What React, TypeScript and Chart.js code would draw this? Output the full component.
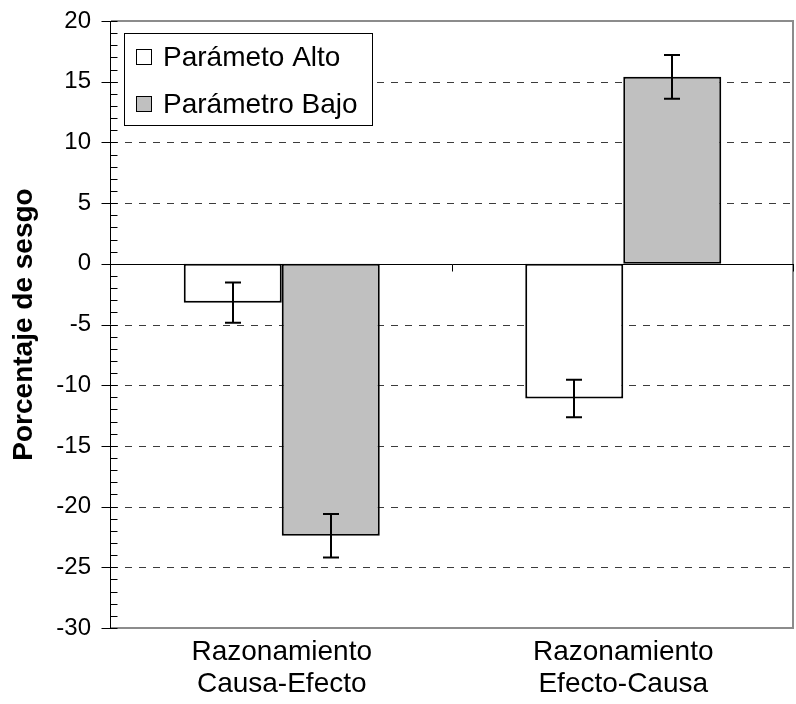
import React, { useEffect, useRef } from 'react';
import { Chart, registerables } from 'chart.js';

Chart.register(...registerables);

const categories = [
  ['Razonamiento', 'Causa-Efecto'],
  ['Razonamiento', 'Efecto-Causa'],
];
const seriesNames = ['Parámeto Alto', 'Parámetro Bajo'];
const altoValues = [-3.2, -11.1];
const altoErrors = [1.65, 1.55];
const bajoValues = [-22.4, 15.4];
const bajoErrors = [1.8, 1.8];
const yMin = -30;
const yMax = 20;
const yStep = 5;
const yMinorStep = 1;
const yTitle = 'Porcentaje de sesgo';

const FONT = "'Liberation Sans', Arial, Helvetica, sans-serif";
const seriesColors = ['#ffffff', '#c0c0c0'];
const errors = [altoErrors, bajoErrors];

const decorPlugin = {
  id: 'decor',
  beforeDatasetsDraw(chart: any) {
    const { ctx, chartArea: a, scales } = chart;
    const y = scales.y;
    const x = scales.x;
    ctx.save();
    // dashed grid lines
    ctx.strokeStyle = '#3c3c3c';
    ctx.lineWidth = 1;
    ctx.setLineDash([7, 7]);
    for (let v = yMin + yStep; v < yMax; v += yStep) {
      if (v === 0) continue;
      const py = Math.round(y.getPixelForValue(v)) + 0.5;
      ctx.beginPath();
      ctx.moveTo(a.left, py);
      ctx.lineTo(a.right, py);
      ctx.stroke();
    }
    ctx.setLineDash([]);
    // gray frame (top, right, bottom)
    ctx.strokeStyle = '#8c8c8c';
    ctx.lineWidth = 2;
    ctx.beginPath();
    ctx.moveTo(a.left, a.top);
    ctx.lineTo(a.right - 1, a.top);
    ctx.lineTo(a.right - 1, a.bottom);
    ctx.lineTo(a.left, a.bottom);
    ctx.stroke();
    // zero line
    const zy = Math.round(y.getPixelForValue(0)) + 0.5;
    ctx.strokeStyle = '#000';
    ctx.lineWidth = 1;
    ctx.beginPath();
    ctx.moveTo(a.left, zy);
    ctx.lineTo(a.right, zy);
    ctx.stroke();
    // category separator ticks
    for (let i = 0; i < categories.length; i++) {
      const px = Math.round(x.getPixelForValue(i + 0.5)) - 0.5;
      ctx.beginPath();
      ctx.moveTo(px, zy);
      ctx.lineTo(px, zy + 7);
      ctx.stroke();
    }
    ctx.restore();
  },
  afterDatasetsDraw(chart: any) {
    const { ctx, chartArea: a, scales } = chart;
    const y = scales.y;
    ctx.save();
    // error bars
    ctx.strokeStyle = '#000';
    ctx.lineWidth = 2;
    chart.data.datasets.forEach((ds: any, di: number) => {
      const meta = chart.getDatasetMeta(di);
      meta.data.forEach((bar: any, i: number) => {
        const v = ds.data[i];
        const e = errors[di][i];
        const px = Math.round(bar.x);
        const yt = y.getPixelForValue(v + e);
        const yb = y.getPixelForValue(v - e);
        ctx.beginPath();
        ctx.moveTo(px, yt);
        ctx.lineTo(px, yb);
        ctx.moveTo(px - 8, yt);
        ctx.lineTo(px + 8, yt);
        ctx.moveTo(px - 8, yb);
        ctx.lineTo(px + 8, yb);
        ctx.stroke();
      });
    });
    // left axis
    const ax = Math.round(a.left) - 0.5;
    ctx.lineWidth = 1;
    ctx.beginPath();
    ctx.moveTo(ax, a.top);
    ctx.lineTo(ax, a.bottom);
    ctx.stroke();
    for (let v = yMin; v <= yMax; v += yMinorStep) {
      const py = Math.round(y.getPixelForValue(v)) + 0.5;
      const major = (v - yMin) % yStep === 0;
      ctx.beginPath();
      ctx.moveTo(major ? ax - 9 : ax, py);
      ctx.lineTo(ax + 7, py);
      ctx.stroke();
    }
    // legend
    const lx = a.left + 13;
    const ly = a.top + 12;
    ctx.fillStyle = '#fff';
    ctx.fillRect(lx, ly, 248, 92);
    ctx.strokeStyle = '#000';
    ctx.lineWidth = 1;
    ctx.strokeRect(lx + 0.5, ly + 0.5, 248, 92);
    ctx.font = `28px ${FONT}`;
    ctx.textBaseline = 'middle';
    ctx.textAlign = 'left';
    seriesNames.forEach((name, i) => {
      const sy = ly + 16 + i * 47;
      ctx.fillStyle = seriesColors[i];
      ctx.fillRect(lx + 12, sy, 15, 15);
      ctx.strokeStyle = '#000';
      ctx.strokeRect(lx + 12.5, sy + 0.5, 15, 15);
      ctx.fillStyle = '#000';
      ctx.fillText(name, lx + 39, sy + 9);
    });
    // y title
    ctx.translate(32, (a.top + a.bottom) / 2);
    ctx.rotate(-Math.PI / 2);
    ctx.font = `bold 28px ${FONT}`;
    ctx.textAlign = 'center';
    ctx.textBaseline = 'alphabetic';
    ctx.fillText(yTitle, 0, 0);
    ctx.restore();
  },
};

export default function App() {
  const ref = useRef<HTMLCanvasElement>(null);
  useEffect(() => {
    if (!ref.current) return;
    const chart = new Chart(ref.current, {
      type: 'bar',
      data: {
        labels: categories,
        datasets: [
          {
            label: seriesNames[0],
            data: altoValues,
            backgroundColor: seriesColors[0],
            borderColor: '#000',
            borderWidth: 2,
            borderSkipped: false,
          },
          {
            label: seriesNames[1],
            data: bajoValues,
            backgroundColor: seriesColors[1],
            borderColor: '#000',
            borderWidth: 2,
            borderSkipped: false,
          },
        ],
      },
      options: {
        responsive: false,
        animation: false,
        events: [],
        layout: { padding: { top: 21, right: 2, left: 0, bottom: 0 } },
        datasets: { bar: { barPercentage: 1, categoryPercentage: 0.574 } },
        plugins: {
          legend: { display: false },
          tooltip: { enabled: false },
          title: { display: false },
        },
        scales: {
          x: {
            grid: { display: false, drawTicks: false },
            border: { display: false },
            ticks: {
              color: '#000',
              font: { family: FONT, size: 28, lineHeight: 1.15 },
              padding: 8,
              maxRotation: 0,
              autoSkip: false,
            },
            afterFit: (s: any) => {
              s.height = 76;
              s.paddingLeft = 0;
              s.paddingRight = 0;
            },
          },
          y: {
            min: yMin,
            max: yMax,
            grid: { display: false, drawTicks: false },
            border: { display: false },
            ticks: {
              stepSize: yStep,
              color: '#000',
              font: { family: FONT, size: 24 },
              padding: 20,
            },
            afterFit: (s: any) => {
              s.width = 111;
              s.paddingTop = 0;
              s.paddingBottom = 0;
            },
          },
        },
      },
      plugins: [decorPlugin],
    });
    return () => chart.destroy();
  }, []);
  return (
    <div style={{ position: 'fixed', left: 0, top: 0, width: 796, height: 704, background: '#fff' }}>
      <canvas ref={ref} width={796} height={704} style={{ display: 'block' }} />
    </div>
  );
}
